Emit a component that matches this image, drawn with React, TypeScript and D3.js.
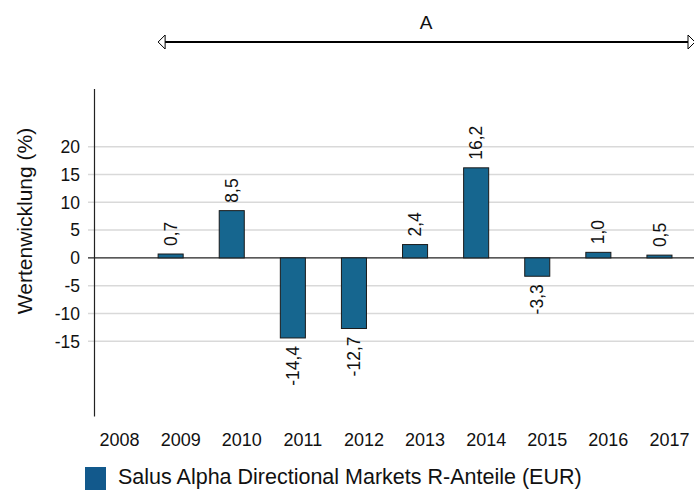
import React from "react";
import * as d3 from "d3";

const years = ["2008", "2009", "2010", "2011", "2012", "2013", "2014", "2015", "2016", "2017"];
const returns: (number | null)[] = [null, 0.7, 8.5, -14.4, -12.7, 2.4, 16.2, -3.3, 1.0, 0.5];
const yTicks = [-15, -10, -5, 0, 5, 10, 15, 20];
const seriesName = "Salus Alpha Directional Markets R-Anteile (EUR)";
const yTitle = "Wertenwicklung (%)";
const periodLabel = "A";

const width = 694;
const height = 490;
const font = "'Liberation Sans', Arial, sans-serif";
const barColor = "#16668f";

function App() {
  const x = d3
    .scaleBand()
    .domain(years)
    .range([79, 690])
    .paddingInner(0.59)
    .paddingOuter(0.295);

  const y = d3.scaleLinear().domain([-15, 20]).range([341.3, 146.7]);

  const axisX = 94.5;
  const labelShift = 10; // category labels sit a bit right of the bars
  const fmt = (v: number) => d3.format(".1f")(v).replace(".", ",").replace("\u2212", "-");

  const arrowStart = x("2009")!;
  const arrowY = 42;

  return (
    <svg width={width} height={height} style={{ position: "absolute", left: 0, top: 0 }}>
      <rect width={width} height={height} fill="#fff" />

      {/* period annotation */}
      <text x={(arrowStart + width) / 2} y={29} textAnchor="middle" fontFamily={font} fontSize={19} fill="#111">
        {periodLabel}
      </text>
      <line x1={arrowStart + 6} x2={width - 1} y1={arrowY} y2={arrowY} stroke="#000" strokeWidth={2} />
      <path
        d={`M${arrowStart},${arrowY} L${arrowStart + 7},${arrowY - 7} L${arrowStart + 7},${arrowY + 7} Z`}
        fill="#fff"
        stroke="#000"
        strokeWidth={1}
      />
      <path
        d={`M${width + 1},${arrowY} L${width - 6},${arrowY - 7} L${width - 6},${arrowY + 7} Z`}
        fill="#fff"
        stroke="#000"
        strokeWidth={1}
      />

      {/* grid */}
      {yTicks.map((t) => (
        <g key={t}>
          <line
            x1={88}
            x2={width}
            y1={y(t)}
            y2={y(t)}
            stroke={t === 0 ? "#222" : "#d9d9d9"}
            strokeWidth={t === 0 ? 1.2 : 1.5}
          />
          <text
            x={80}
            y={y(t)}
            dy="0.36em"
            textAnchor="end"
            fontFamily={font}
            fontSize={17.5}
            fill="#111"
          >
            {t}
          </text>
        </g>
      ))}

      {/* y axis */}
      <line x1={axisX} x2={axisX} y1={89} y2={416.5} stroke="#222" strokeWidth={1.2} />
      <text
        transform={`translate(25,221) rotate(-90)`}
        dy="0.35em"
        textAnchor="middle"
        fontFamily={font}
        fontSize={21}
        fill="#111"
      >
        {yTitle}
      </text>

      {/* bars */}
      {years.map((yr, i) => {
        const v = returns[i];
        if (v === null) return null;
        const bx = x(yr)!;
        const top = y(Math.max(0, v));
        const bottom = y(Math.min(0, v));
        const cx = bx + x.bandwidth() / 2;
        return (
          <g key={yr}>
            <rect
              x={bx}
              y={top}
              width={x.bandwidth()}
              height={bottom - top}
              fill={barColor}
              stroke="#1a1a1a"
              strokeWidth={1}
            />
            <text
              transform={`translate(${cx},${v >= 0 ? top - 8 : bottom + 8}) rotate(-90)`}
              dy="0.35em"
              textAnchor={v >= 0 ? "start" : "end"}
              fontFamily={font}
              fontSize={17.5}
              fill="#111"
            >
              {fmt(v)}
            </text>
          </g>
        );
      })}

      {/* category labels */}
      {years.map((yr) => (
        <text
          key={yr}
          x={x(yr)! + x.bandwidth() / 2 + labelShift}
          y={446}
          textAnchor="middle"
          fontFamily={font}
          fontSize={18}
          fill="#111"
        >
          {yr}
        </text>
      ))}

      {/* legend */}
      <rect x={85} y={467} width={21} height={23} fill="#12598c" />
      <text x={118} y={484} fontFamily={font} fontSize={21.5} fill="#111">
        {seriesName}
      </text>
    </svg>
  );
}

export default App;
